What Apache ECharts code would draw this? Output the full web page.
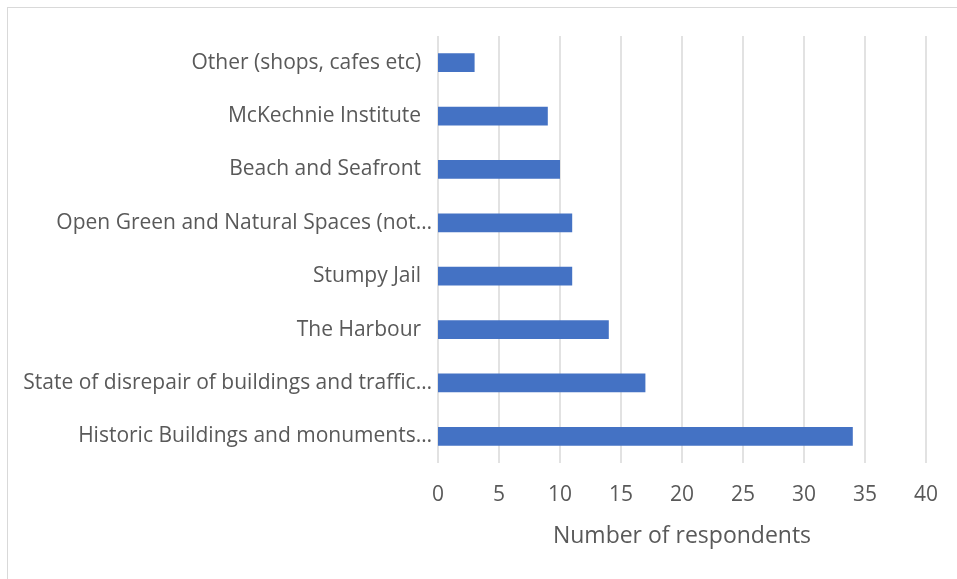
<!DOCTYPE html>
<html>
<head>
<meta charset="utf-8">
<script src="https://cdn.jsdelivr.net/npm/echarts@6/dist/echarts.min.js"></script>
<style>
  html, body { margin: 0; padding: 0; background: #fff; }
  #frame { position: absolute; left: 7px; top: 7px; width: 960px; height: 580px; border: 1px solid #d9d9d9; box-sizing: border-box; }
  #main { position: absolute; left: 0; top: 0; width: 957px; height: 579px; }
</style>
</head>
<body>
<div id="frame"></div>
<div id="main"></div>
<script>
// categories top to bottom
const categories = [
  'Other (shops, cafes etc)  ',
  'McKechnie Institute  ',
  'Beach and Seafront  ',
  'Open Green and Natural Spaces (not…',
  'Stumpy Jail  ',
  'The Harbour  ',
  'State of disrepair of buildings and traffic…',
  'Historic Buildings and monuments…'
]
const respondents = [3, 9, 10, 11, 11, 14, 17, 34]
const axisName = 'Number of respondents'

const font = 'Open Sans, sans-serif'
const chart = echarts.init(document.getElementById('main'), null, { renderer: 'canvas' })
const option = {
  animation: false,
  grid: {
    left: 438,
    right: 31,
    top: 36,
    bottom: 116
  },
  xAxis: {
    type: 'value',
    min: 0,
    max: 40,
    interval: 5,
    name: axisName,
    nameLocation: 'middle',
    nameGap: 62,
    nameTextStyle: {
      color: '#595959',
      fontSize: 23,
      fontFamily: font
    },
    axisLine: { show: false },
    axisTick: { show: false },
    axisLabel: {
      color: '#595959',
      fontSize: 21,
      fontFamily: font,
      margin: 22
    },
    splitLine: {
      lineStyle: { color: '#d9d9d9', width: 1.5 }
    }
  },
  yAxis: {
    type: 'category',
    inverse: true,
    data: categories,
    axisLine: { show: false },
    axisTick: { show: false },
    axisLabel: {
      color: '#595959',
      fontSize: 21,
      fontFamily: font,
      margin: 6
    }
  },
  series: [
    {
      type: 'bar',
      data: respondents,
      barWidth: '35%',
      itemStyle: { color: '#4472C4' }
    }
  ]
}
chart.setOption(option)
</script>
</body>
</html>
